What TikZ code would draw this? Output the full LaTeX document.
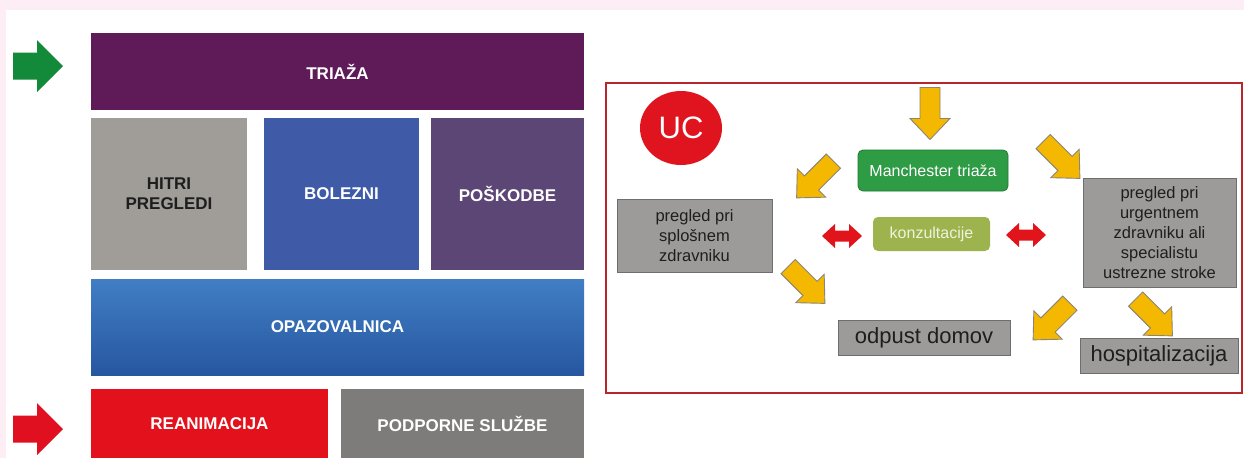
\documentclass[tikz,border=0pt]{standalone}
\usepackage{fontspec}
\setmainfont{Liberation Sans}
\usetikzlibrary{shapes.geometric}
\definecolor{pinkbg}{HTML}{FCEEF4}
\definecolor{triazac}{HTML}{5F1B58}
\definecolor{hitric}{HTML}{A09C98}
\definecolor{boleznic}{HTML}{3F5BA8}
\definecolor{poskodbec}{HTML}{5C4675}
\definecolor{opaztop}{HTML}{417EC4}
\definecolor{opazbot}{HTML}{2657A0}
\definecolor{reanc}{HTML}{E3111B}
\definecolor{podpc}{HTML}{7E7C7A}
\definecolor{darktxt}{HTML}{1E1E1E}
\definecolor{framec}{HTML}{B8252B}
\definecolor{ucred}{HTML}{E0141E}
\definecolor{manc}{HTML}{2E9B45}
\definecolor{manb}{HTML}{1E7A34}
\definecolor{konc}{HTML}{9DB34E}
\definecolor{kontxt}{HTML}{EEF4DC}
\definecolor{grayc}{HTML}{9C9B99}
\definecolor{grayb}{HTML}{6E6E6E}
\definecolor{yelc}{HTML}{F5B800}
\definecolor{yelb}{HTML}{8C8474}
\definecolor{greenar}{HTML}{138A3A}
\definecolor{redar}{HTML}{E01020}
\definecolor{dblred}{HTML}{E2141B}
\tikzset{
  leftbox/.style={rectangle, inner sep=0pt, text=white, align=center,
    font=\fontsize{17}{20}\selectfont\bfseries},
  graybox/.style={rectangle, fill=grayc, draw=grayb, line width=1pt, inner sep=0pt,
    text=darktxt, align=center, font=\fontsize{16.5}{20}\selectfont},
  bigtxt/.style={font=\fontsize{22}{24}\selectfont},
  yarrow/.pic={\draw[fill=yelc, draw=yelb, line width=0.9pt, line join=miter]
    (-26,-10) -- (5,-10) -- (5,-20) -- (26,0) -- (5,20) -- (5,10) -- (-26,10) -- cycle;},
  dblarrow/.pic={\fill[dblred]
    (-20,0) -- (-7,-12) -- (-7,-5.5) -- (7,-5.5) -- (7,-12) -- (20,0) -- (7,12)
    -- (7,5.5) -- (-7,5.5) -- (-7,12) -- cycle;},
  entryarrow/.pic={\fill[pic actions]
    (-25,-13.5) -- (-1,-13.5) -- (-1,-26) -- (25,0) -- (-1,26) -- (-1,13.5)
    -- (-25,13.5) -- cycle;}
}
\begin{document}
\begin{tikzpicture}[x=1pt,y=-1pt]
\useasboundingbox (0,0) rectangle (1244,458);
\fill[pinkbg] (0,0) rectangle (1244,458);
\fill[white] (6,10) rectangle (1244,458);

% left block
\node[leftbox, fill=triazac, minimum width=493pt, minimum height=77pt] (triaza) at (337.5,71.5) {TRIAŽA};
\node[leftbox, fill=hitric, text=darktxt, minimum width=156pt, minimum height=152pt] (hitri) at (169,194) {HITRI\\PREGLEDI};
\node[leftbox, fill=boleznic, minimum width=155pt, minimum height=152pt] (bolezni) at (341.5,194) {BOLEZNI};
\node[leftbox, fill=poskodbec, minimum width=153pt, minimum height=152pt] (poskodbe) at (507.5,194) {POŠKODBE};
\node[leftbox, top color=opaztop, bottom color=opazbot, minimum width=493pt, minimum height=96pt] (opaz) at (337.5,327) {OPAZOVALNICA};
\node[leftbox, fill=reanc, minimum width=237pt, minimum height=69pt] (rean) at (209.5,423.5) {REANIMACIJA};
\node[leftbox, fill=podpc, minimum width=243pt, minimum height=69pt] (podp) at (462.5,423.5) {PODPORNE SLUŽBE};

\pic[fill=greenar] at (38,66) {entryarrow};
\pic[fill=redar] at (38,429) {entryarrow};

% right panel
\node[draw=framec, line width=1.6pt, minimum width=636pt, minimum height=310pt, inner sep=0pt] (panel) at (924,238) {};
\node[ellipse, fill=ucred, minimum width=82pt, minimum height=74pt, inner sep=0pt, text=white,
  font=\fontsize{31}{31}\selectfont] (uc) at (681,128) {UC};
\node[rectangle, rounded corners=5pt, fill=manc, draw=manb, line width=0.8pt, minimum width=150pt, minimum height=41pt,
  inner sep=0pt, text=white, font=\fontsize{16}{18}\selectfont] (man) at (933,170.5) {Manchester triaža};
\node[rectangle, rounded corners=5pt, fill=konc, minimum width=117pt, minimum height=34pt,
  inner sep=0pt, text=kontxt, font=\fontsize{16}{18}\selectfont] (konz) at (931.5,234) {konzultacije};
\node[graybox, minimum width=155pt, minimum height=73pt] (splos) at (694.5,235.5) {pregled pri\\splošnem\\zdravniku};
\node[graybox, minimum width=153pt, minimum height=109pt] (urg) at (1159.5,232.5) {pregled pri\\urgentnem\\zdravniku ali\\specialistu\\ustrezne stroke};
\node[graybox, bigtxt, minimum width=172pt, minimum height=35pt] (odpust) at (924,337.5) {odpust domov};
\node[graybox, bigtxt, minimum width=158pt, minimum height=35pt] (hosp) at (1159,355.5) {hospitalizacija};

% yellow block arrows
\pic[rotate=-90] at (930,113.5) {yarrow};
\pic[rotate=-135] at (815,179.5) {yarrow};
\pic[rotate=-45] at (1061.5,160) {yarrow};
\pic[rotate=-45] at (806.5,285) {yarrow};
\pic[rotate=-135] at (1051.5,321.5) {yarrow};
\pic[rotate=-45] at (1154,317.5) {yarrow};

% red double arrows
\pic at (842,236) {dblarrow};
\pic at (1026,235) {dblarrow};
\end{tikzpicture}
\end{document}
